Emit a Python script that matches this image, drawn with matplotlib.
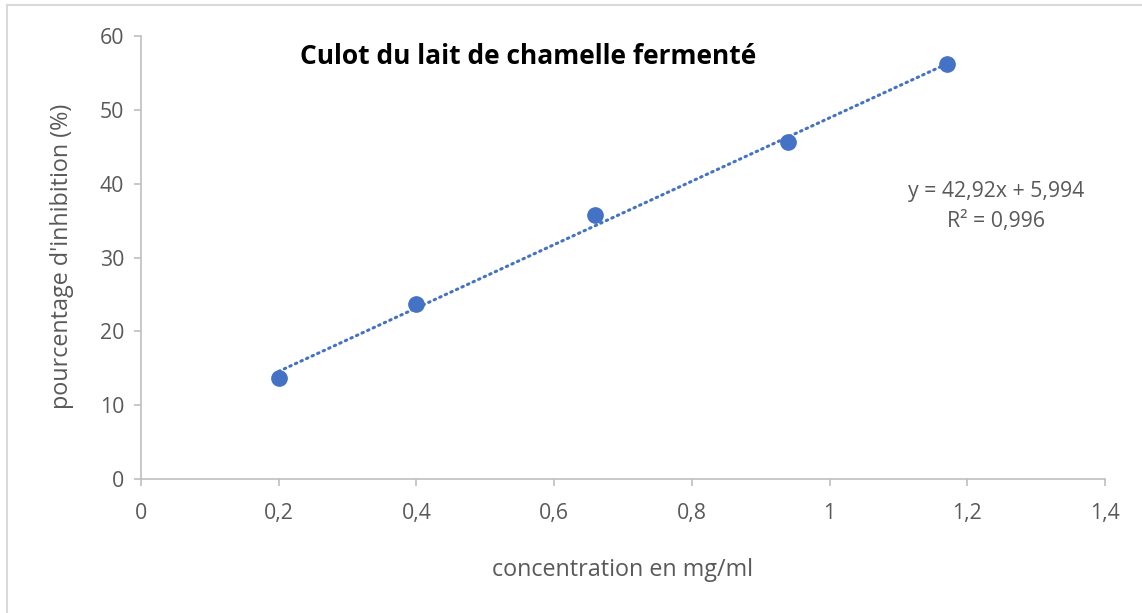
import numpy as np
from matplotlib import pyplot as plt
from matplotlib.lines import Line2D

# data
concentration = [0.2, 0.4, 0.66, 0.94, 1.17]
inhibition = [13.7, 23.7, 35.8, 45.6, 56.2]
slope = 42.92
intercept = 5.994
r2_text = "0,996"

x_ticks = [0, 0.2, 0.4, 0.6, 0.8, 1.0, 1.2, 1.4]
x_tick_labels = ["0", "0,2", "0,4", "0,6", "0,8", "1", "1,2", "1,4"]
y_ticks = [0, 10, 20, 30, 40, 50, 60]

plt.rcParams['font.family'] = ['Open Sans', 'DejaVu Sans']

blue = "#4472c4"
grey_txt = "#595959"
grey_ax = "#bfbfbf"

fig = plt.figure(figsize=(11.42, 6.13), dpi=100)
ax = fig.add_axes([141/1142, 1-479/613, (1105-141)/1142, (479-36)/613])

# trend line over the data range
xs = np.array([concentration[0], concentration[-1]])
ax.plot(xs, slope*xs + intercept, color=blue, lw=2.2, linestyle=(0, (0.5, 1.5)),
        dash_capstyle='round', zorder=2)
ax.plot(concentration, inhibition, 'o', color=blue, markersize=11, zorder=3)

ax.set_xlim(0, 1.4)
ax.set_ylim(0, 60)
ax.set_xticks(x_ticks)
ax.set_xticklabels(x_tick_labels)
ax.set_yticks(y_ticks)

for s in ['top', 'right']:
    ax.spines[s].set_visible(False)
for s in ['left', 'bottom']:
    ax.spines[s].set_color(grey_ax)
    ax.spines[s].set_linewidth(1.2)
ax.tick_params(colors=grey_ax, labelcolor=grey_txt, labelsize=15.3, length=5, width=1.2)
ax.tick_params(axis='x', pad=12)
ax.tick_params(axis='y', pad=7)

fig.text(623/1142, 1-570/613, "concentration en mg/ml", ha='center', va='center',
         fontsize=16.8, color=grey_txt)
fig.text(62/1142, 1-256/613, "pourcentage d'inhibition (%)", ha='center', va='center',
         rotation=90, fontsize=16.8, color=grey_txt)
fig.text(528/1142, 1-57/613, "Culot du lait de chamelle fermenté", ha='center', va='center',
         fontsize=19, fontweight='bold', color='black')
fig.text(996/1142, 1-192/613, "y = %sx + %s" % (str(slope).replace('.', ','), str(intercept).replace('.', ',')),
         ha='center', va='center', fontsize=15.3, color=grey_txt)
fig.text(996/1142, 1-222/613, "R² = " + r2_text, ha='center', va='center',
         fontsize=15.3, color=grey_txt)

# chart border (top and left visible)
fig.add_artist(Line2D([7/1142, 7/1142], [0, 1-5/613], color="#d9d9d9", lw=1.5))
fig.add_artist(Line2D([7/1142, 1], [1-5/613, 1-5/613], color="#d9d9d9", lw=1.5))

fig.savefig("out.png", dpi=100)
